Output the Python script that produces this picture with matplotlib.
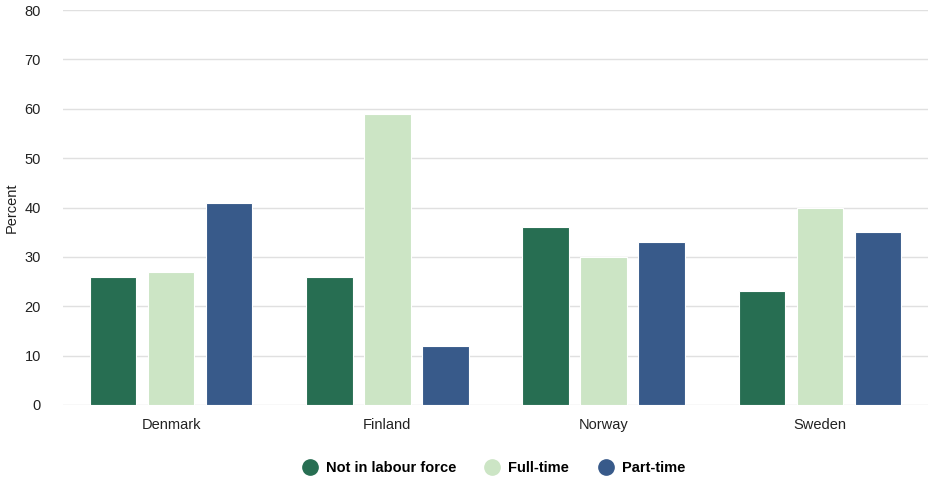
import numpy as np
import matplotlib.pyplot as plt

countries = ['Denmark', 'Finland', 'Norway', 'Sweden']
not_in_labour = [26, 26, 36, 23]
full_time = [27, 59, 30, 40]
part_time = [41, 12, 33, 35]

series = [
    ('Not in labour force', not_in_labour, '#276e52'),
    ('Full-time', full_time, '#cce5c5'),
    ('Part-time', part_time, '#385a8a'),
]

plt.rcParams['font.family'] = ['Liberation Sans', 'DejaVu Sans']

fig = plt.figure(figsize=(9.32, 4.87), dpi=100)
ax = fig.add_axes([63 / 932, 82 / 487, 865 / 932, 395 / 487])

x = np.arange(len(countries))
width = 0.215
offsets = [-0.268, 0, 0.268]
for (label, vals, color), off in zip(series, offsets):
    ax.bar(x + off, vals, width, color=color, edgecolor='white', linewidth=0.8,
           label=label, zorder=3)

ax.set_xlim(-0.5, len(countries) - 0.5)
ax.set_ylim(0, 80)
ax.set_yticks(range(0, 81, 10))
ax.set_xticks(x)
ax.set_xticklabels(countries)
ax.grid(axis='y', color='#e0e0e0', linewidth=1, zorder=0)
for s in ax.spines.values():
    s.set_visible(False)
ax.tick_params(length=0, labelsize=10.5, colors='#222222')
ax.tick_params(axis='x', pad=17)
ax.tick_params(axis='y', pad=16)
# baseline-align country names so "Norway" sits level with the others
for lbl in ax.get_xticklabels():
    lbl.set_va('baseline')
ax.set_ylabel('Percent', fontsize=10.5, color='#222222', labelpad=4)

handles = [plt.Line2D([], [], marker='o', linestyle='', markersize=11,
                      markerfacecolor=c, markeredgecolor=c) for _, _, c in series]
leg = fig.legend(handles, [s[0] for s in series], loc='center',
                 bbox_to_anchor=(0.529, 19 / 487), ncol=3, frameon=False,
                 prop={'weight': 'bold', 'size': 10.5}, handletextpad=0.5,
                 columnspacing=1.9, handlelength=1.2)

fig.savefig('out.png', dpi=100)
